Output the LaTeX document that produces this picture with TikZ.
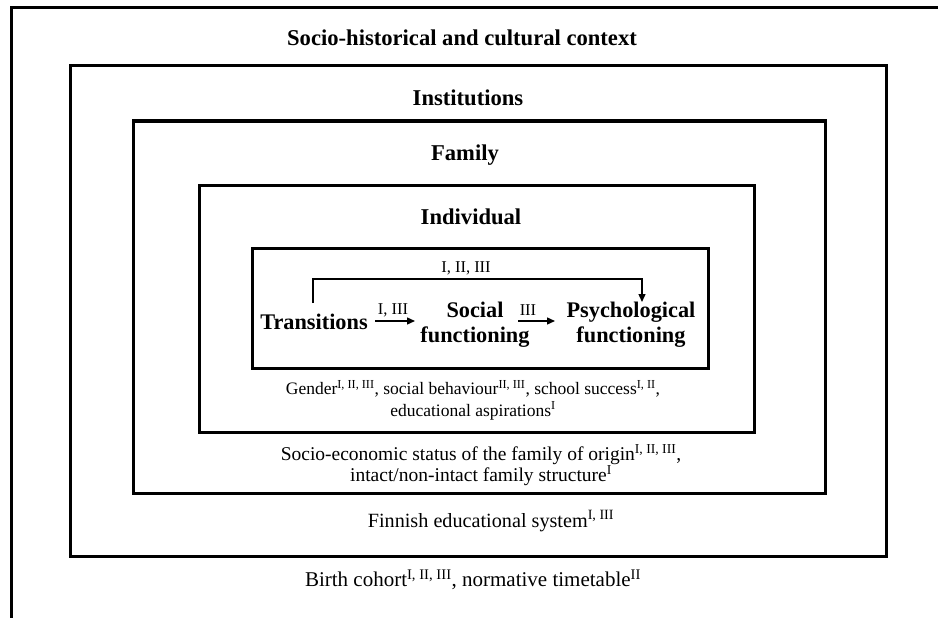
\documentclass[tikz,border=0pt]{standalone}
\usepackage{fontspec}
\setmainfont{Liberation Serif}
\usetikzlibrary{arrows.meta,calc}
\tikzset{
  frame/.style={line width=3pt, line join=miter},
  head/.style={font=\fontsize{22.6}{24}\selectfont\bfseries, inner sep=0pt},
  concept/.style={font=\fontsize{22.3}{25}\selectfont\bfseries, inner sep=0pt, align=center},
  note/.style={font=\fontsize{19.5}{21}\selectfont, inner sep=0pt, align=center},
  lab/.style={font=\fontsize{16.5}{17}\selectfont, inner sep=0pt},
  arr/.style={line width=1.4pt, -{Triangle[length=8pt,width=7pt]}},
}
\newcommand{\sps}[1]{\textsuperscript{#1}}
\begin{document}
\begin{tikzpicture}[x=1pt,y=-1pt]
\useasboundingbox (0,0) rectangle (938,618);
% frames
\draw[frame] (11,625) -- (11,8) -- (945,8);
\draw[frame] (70,66) rectangle (886,556);
\draw[frame] (133,121) rectangle (825,493);
\draw[frame] (199,185) rectangle (754,432);
\draw[frame] (252,248) rectangle (708,368);
% headings
\node[head] (ctx) at (462,38) {Socio-historical and cultural context};
\node[head] (inst) at (468,98) {Institutions};
\node[head] (fam) at (465,155) {Family};
\node[head] (ind) at (471,217) {Individual};
% concepts
\node[concept] (trans) at (314,322) {Transitions};
\node[concept] (soc) at (475,324.5) {Social\\functioning};
\node[concept] (psy) at (631,324.5) {Psychological\\functioning};
% arrows
\draw[arr] ($(trans.center)+(61,-1)$) coordinate (a1) -- ($(soc.center)+(-60,-3.5)$) coordinate (a2);
\node[lab] (l1) at ($(a1)!0.45!(a2)+(0,-11)$) {I, III};
\draw[arr] ($(soc.center)+(43,-3.5)$) coordinate (b1) -- ($(psy.center)+(-76,-3.5)$) coordinate (b2);
\node[lab] (l2) at ($(b1)!0.27!(b2)+(0,-11)$) {III};
\draw[arr] ($(trans.center)+(-1,-19)$) -- ++(0,-24) coordinate (c1) -| ($(psy.center)+(11,-22.5)$);
\node[lab] (l3) at ($(c1)+(153,-11)$) {I, II, III};
% notes
\node[note, font=\fontsize{17.5}{21.5}\selectfont] (indnote) at (473,400) {Gender\sps{I, II, III}, social behaviour\sps{II, III}, school success\sps{I, II},\\educational aspirations\sps{I}};
\node[note] (famnote) at (481,465) {Socio-economic status of the family of origin\sps{I, II, III},\\intact/non-intact family structure\sps{I}};
\node[note, font=\fontsize{20.2}{21}\selectfont] (instnote) at (491,521) {Finnish educational system\sps{I, III}};
\node[note, font=\fontsize{21}{21}\selectfont] (ctxnote) at (473,580) {Birth cohort\sps{I, II, III}, normative timetable\sps{II}};
\end{tikzpicture}
\end{document}
